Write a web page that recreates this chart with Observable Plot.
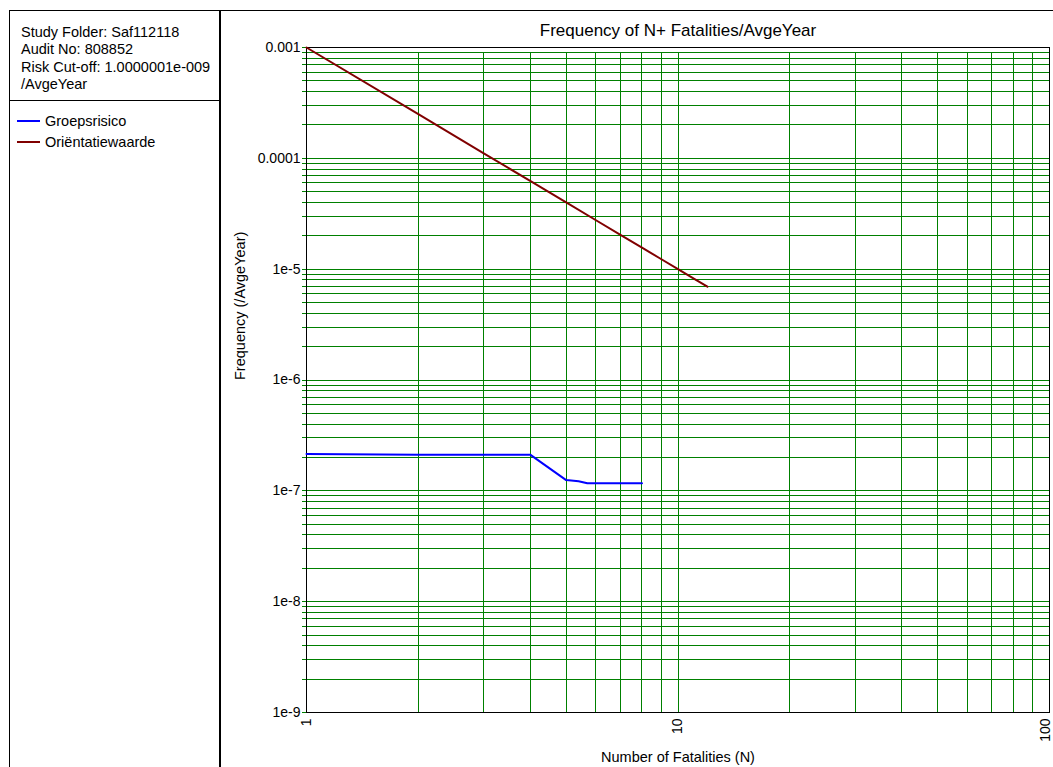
<!DOCTYPE html>
<html>
<head>
<meta charset="utf-8">
<script src="https://cdn.jsdelivr.net/npm/d3@7"></script>
<script src="https://cdn.jsdelivr.net/npm/@observablehq/plot@0.6"></script>
<style>
  html, body { margin: 0; padding: 0; background: #fff; }
  #wrap { position: relative; width: 1053px; height: 767px; overflow: hidden; font-family: "Liberation Sans", Arial, sans-serif; }
  #chart { position: absolute; left: 0; top: 0; }
  .abs { position: absolute; }
  #topline { left: 9px; top: 10px; width: 1044px; height: 1px; background: #000; }
  #panel { left: 9px; top: 10px; width: 209px; height: 800px; border-left: 1px solid #000; border-right: 2px solid #000; }
  #sep { left: 9px; top: 100px; width: 211px; height: 1px; background: #000; }
  #info { left: 21px; top: 23.5px; font-size: 14.5px; line-height: 17.6px; color: #000; white-space: nowrap; }
  .lg-sw { position: absolute; left: 17px; width: 23px; height: 2px; }
  .lg-tx { position: absolute; left: 45px; font-size: 14.5px; line-height: 16px; color: #000; white-space: nowrap; }
</style>
</head>
<body>
<div id="wrap">
  <div id="chart"></div>
  <div class="abs" id="topline"></div>
  <div class="abs" id="panel"></div>
  <div class="abs" id="sep"></div>
  <div class="abs" id="info"></div>
  <div class="abs" id="legend" style="left:0;top:0;"></div>
</div>
<script>
// ---- Text ----
const infoLines = ["Study Folder: Saf112118", "Audit No: 808852", "Risk Cut-off: 1.0000001e-009", "/AvgeYear"];
const chartTitle = "Frequency of N+ Fatalities/AvgeYear";
const xTitle = "Number of Fatalities (N)";
const yTitle = "Frequency (/AvgeYear)";

// ---- Series ----
const seriesNames = ["Groepsrisico", "Oriëntatiewaarde"];
const seriesColors = ["#0000ff", "#800000"];

// Groepsrisico (FN curve)
const groepN = [1, 2, 4, 5, 5.4, 5.7, 8];
const groepF = [2.15e-7, 2.12e-7, 2.12e-7, 1.25e-7, 1.22e-7, 1.17e-7, 1.17e-7];

// Oriëntatiewaarde (F = 1e-3 / N^2)
const orientN = [1, 2, 3, 4, 5, 6, 7, 8, 9, 10, 11, 12];
const orientF = [1e-3, 2.5e-4, 1.111e-4, 6.25e-5, 4e-5, 2.778e-5, 2.041e-5, 1.5625e-5, 1.235e-5, 1e-5, 8.264e-6, 6.944e-6];

// ---- Axis ticks ----
const xTickValues = [1, 10, 100];
const xTickLabels = ["1", "10", "100"];
const yTickValues = [1e-9, 1e-8, 1e-7, 1e-6, 1e-5, 1e-4, 1e-3];
const yTickLabels = ["1e-9", "1e-8", "1e-7", "1e-6", "1e-5", "0.0001", "0.001"];
const xDomain = [1, 100];
const yDomain = [1e-9, 1e-3];

// ---- Build data ----
const groep = groepN.map((n, i) => ({N: n, F: groepF[i], s: seriesNames[0]}));
const orient = orientN.map((n, i) => ({N: n, F: orientF[i], s: seriesNames[1]}));

// log grid: 1..9 per decade
const xGrid = d3.scaleLog().domain(xDomain).ticks(10);
const yGrid = d3.scaleLog().domain(yDomain).ticks(10);
const green = "#008000";
const xLab = d => xTickLabels[xTickValues.indexOf(d)];

const chart = Plot.plot({
  width: 1053,
  height: 767,
  marginLeft: 306,
  marginRight: 4,
  marginTop: 47,
  marginBottom: 55,
  style: {fontFamily: "'Liberation Sans', Arial, sans-serif", fontSize: "14px", background: "transparent", color: "#000"},
  x: {type: "log", domain: xDomain},
  y: {type: "log", domain: yDomain},
  marks: [
    Plot.ruleX(xGrid, {x: d => d, y1: yDomain[0], y2: yDomain[1], stroke: green, insetBottom: -5, shapeRendering: "crispEdges"}),
    Plot.ruleY(yGrid, {y: d => d, x1: xDomain[0], x2: xDomain[1], stroke: green, insetLeft: -4, shapeRendering: "crispEdges"}),
    Plot.frame({stroke: "#000", shapeRendering: "crispEdges"}),
    Plot.axisX({ticks: xTickValues.slice(0, 2), tickSize: 0, tickPadding: 6, tickRotate: -90,
      tickFormat: xLab, label: null, fill: "#000", fontSize: 14}),
    Plot.axisX({ticks: xTickValues.slice(2), tickSize: 0, tickPadding: 6, tickRotate: -90, dx: -4,
      tickFormat: xLab, label: null, fill: "#000", fontSize: 14}),
    Plot.axisY({ticks: yTickValues, tickSize: 0, tickPadding: 6,
      tickFormat: d => yTickLabels[yTickValues.findIndex(v => Math.abs(v - d) / v < 1e-6)], label: null, fill: "#000", fontSize: 14}),
    Plot.line(orient, {x: "N", y: "F", stroke: seriesColors[1], strokeWidth: 2}),
    Plot.line(groep, {x: "N", y: "F", stroke: seriesColors[0], strokeWidth: 2}),
    Plot.text([chartTitle], {text: d => d, frameAnchor: "top", lineAnchor: "middle", dy: -17, fontSize: 17, fill: "#000"}),
    Plot.text([xTitle], {text: d => d, frameAnchor: "bottom", lineAnchor: "middle", dy: 45, fontSize: 14.5, fill: "#000"}),
    Plot.text([yTitle], {text: d => d, frameAnchor: "left", dx: -66, rotate: -90, fontSize: 14.5, fill: "#000"})
  ]
});
document.getElementById("chart").appendChild(chart);

// ---- Left panel ----
document.getElementById("info").innerHTML = infoLines.map(t => `<div>${t}</div>`).join("");
const legend = document.getElementById("legend");
const rowTops = [121, 142];
seriesNames.forEach((name, i) => {
  const sw = document.createElement("div");
  sw.className = "lg-sw";
  sw.style.top = (rowTops[i] - 1) + "px";
  sw.style.background = seriesColors[i];
  legend.appendChild(sw);
  const tx = document.createElement("div");
  tx.className = "lg-tx";
  tx.style.top = (rowTops[i] - 8) + "px";
  tx.textContent = name;
  legend.appendChild(tx);
});
</script>
</body>
</html>
